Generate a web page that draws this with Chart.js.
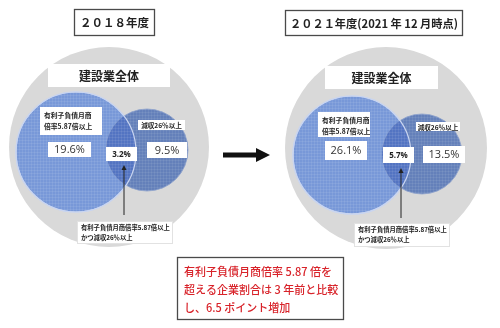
<!DOCTYPE html>
<html lang="ja">
<head>
<meta charset="UTF-8">
<title>建設業 有利子負債月商倍率と減収企業の割合</title>
<script src="https://cdn.jsdelivr.net/npm/chart.js"></script>
<style>
  body { margin: 0; background: #fff; }
  #wrap { width: 500px; height: 328px; }
</style>
</head>
<body>
<div id="wrap"><canvas id="venn" width="500" height="328"></canvas></div>
<script>
// data
const panels = ['２０１８年度', '２０２１年度(2021 年 12 月時点)'];
const debtOnly = [19.6, 26.1];     // 有利子負債月商倍率5.87倍以上 のみ
const overlap = [3.2, 5.7];        // 両方
const revenueOnly = [9.5, 13.5];   // 減収26%以上 のみ
const setNames = ['建設業全体', '有利子負債月商', '倍率5.87倍以上', '減収26％以上'];
const calloutLines = ['有利子負債月商倍率5.87倍以上', 'かつ減収26％以上'];
const noteLines = ['有利子負債月商倍率 5.87 倍を', '超える企業割合は 3 年前と比較', 'し、6.5 ポイント増加'];

// layout (scale units = pixels)
const circles = {
  all:   [{ x: 109, y: 147, r: 100 }, { x: 386, y: 148, r: 101 }],
  debt:  [{ x: 76, y: 152, r: 60 },   { x: 352, y: 155, r: 59 }],
  rev:   [{ x: 147, y: 150, r: 41 },  { x: 422, y: 154, r: 40 }]
};
const boxes = [
  { title: [74, 9, 155, 36], whole: [48, 64, 170, 87], debtLabel: [40, 107, 102, 135],
    debtVal: [48, 142, 91, 157], overVal: [106, 147, 137, 161], revLabel: [138, 120, 185, 130],
    revVal: [147, 142, 187, 158], callout: [77, 221, 173, 244], pointer: [124, 215, 165] },
  { title: [285, 10, 463, 36], whole: [325, 66, 438, 89], debtLabel: [318, 112, 370, 137],
    debtVal: [325, 141, 367, 160], overVal: [383, 147, 414, 163], revLabel: [416, 122, 460, 131],
    revVal: [423, 146, 465, 163], callout: [354, 223, 450, 247], pointer: [401, 218, 168] }
];
const noteBox = [177, 257, 344, 320];
const bigArrow = [223, 270, 155];

const JP = '"Noto Sans CJK JP", "Noto Sans", sans-serif';

function circlePath(ctx, el) {
  ctx.beginPath();
  ctx.arc(el.x, el.y, el.options.radius, 0, Math.PI * 2);
}
function texture(ctx, el, color) {
  const r = el.options.radius;
  ctx.save();
  circlePath(ctx, el);
  ctx.clip();
  ctx.strokeStyle = color;
  ctx.lineWidth = 1;
  ctx.beginPath();
  for (let d = -r; d <= r; d += 3) {
    ctx.moveTo(Math.round(el.x + d) + 0.5, el.y - r);
    ctx.lineTo(Math.round(el.x + d) + 0.5, el.y + r);
    ctx.moveTo(el.x - r, Math.round(el.y + d) + 0.5);
    ctx.lineTo(el.x + r, Math.round(el.y + d) + 0.5);
  }
  ctx.stroke();
  ctx.restore();
}

const overlapPlugin = {
  id: 'overlap',
  afterDatasetsDraw(chart) {
    const ctx = chart.ctx;
    const big = chart.getDatasetMeta(1).data;
    const small = chart.getDatasetMeta(2).data;
    big.forEach((b, i) => {
      const s = small[i];
      texture(ctx, s, 'rgba(255,255,255,0.07)');
      ctx.save();
      circlePath(ctx, b);
      ctx.clip();
      circlePath(ctx, s);
      ctx.fillStyle = '#5374c2';
      ctx.fill();
      ctx.restore();
      texture(ctx, b, 'rgba(255,255,255,0.08)');
      ctx.save();
      circlePath(ctx, b);
      ctx.strokeStyle = '#c9d5f0';
      ctx.lineWidth = 1.2;
      ctx.stroke();
      ctx.restore();
    });
  }
};

const labelPlugin = {
  id: 'labels',
  afterDraw(chart) {
    const ctx = chart.ctx;
    const sx = chart.scales.x, sy = chart.scales.y;
    const px = v => sx.getPixelForValue(v);
    const py = v => sy.getPixelForValue(v);

    function box(b, border) {
      const x1 = px(b[0]), y1 = py(b[1]), x2 = px(b[2]), y2 = py(b[3]);
      ctx.fillStyle = '#fff';
      ctx.fillRect(x1, y1, x2 - x1, y2 - y1);
      if (border) {
        ctx.strokeStyle = border;
        ctx.lineWidth = 1.3;
        ctx.strokeRect(x1 + 0.5, y1 + 0.5, x2 - x1 - 1, y2 - y1 - 1);
      }
      return { x1, y1, x2, y2, cx: (x1 + x2) / 2, cy: (y1 + y2) / 2 };
    }
    function text(str, x, y, font, color, align) {
      ctx.font = font;
      ctx.fillStyle = color || '#222';
      ctx.textAlign = align || 'center';
      ctx.textBaseline = 'middle';
      ctx.fillText(str, x, y);
    }
    function fitText(str, r, font, color) {
      ctx.font = font;
      const w = ctx.measureText(str).width;
      const avail = r.x2 - r.x1 - 10;
      ctx.save();
      ctx.translate(r.cx, r.cy + 0.5);
      if (w > avail) ctx.scale(avail / w, 1);
      text(str, 0, 0, font, color);
      ctx.restore();
    }

    boxes.forEach((b, i) => {
      const t = box(b.title, '#4a4a4a');
      fitText(panels[i], t, '600 11.5px ' + JP, '#222');

      const w = box(b.whole);
      text(setNames[0], w.cx, w.cy + 0.5, '600 12px ' + JP, '#222');

      const dl = box(b.debtLabel);
      text(setNames[1], dl.x1 + 4, dl.y1 + 8, 'bold 6.8px ' + JP, '#222', 'left');
      text(setNames[2], dl.x1 + 4, dl.y1 + 19, 'bold 6.8px ' + JP, '#222', 'left');

      const dv = box(b.debtVal);
      text(debtOnly[i].toFixed(1) + '%', dv.cx, dv.cy + 0.5, '11px "Open Sans", sans-serif', '#333');

      const ov = box(b.overVal);
      text(overlap[i].toFixed(1) + '%', ov.cx, ov.cy + 0.5, 'bold 8px "Open Sans", sans-serif', '#222');

      const rl = box(b.revLabel);
      text(setNames[3], rl.cx, rl.cy + 0.5, 'bold 6.6px ' + JP, '#222');

      const rv = box(b.revVal);
      text(revenueOnly[i].toFixed(1) + '%', rv.cx, rv.cy + 0.5, '11px "Open Sans", sans-serif', '#333');

      // pointer line with arrowhead
      const [ax, ay1, ay2] = b.pointer;
      ctx.strokeStyle = '#222';
      ctx.lineWidth = 1;
      ctx.beginPath();
      ctx.moveTo(px(ax), py(ay1));
      ctx.lineTo(px(ax), py(ay2) + 3);
      ctx.stroke();
      ctx.fillStyle = '#222';
      ctx.beginPath();
      ctx.moveTo(px(ax), py(ay2));
      ctx.lineTo(px(ax) - 2.5, py(ay2) + 5);
      ctx.lineTo(px(ax) + 2.5, py(ay2) + 5);
      ctx.closePath();
      ctx.fill();

      const c = box(b.callout);
      ctx.strokeStyle = '#e2e2e2';
      ctx.lineWidth = 1;
      ctx.strokeRect(c.x1 + 0.5, c.y1 + 0.5, c.x2 - c.x1 - 1, c.y2 - c.y1 - 1);
      text(calloutLines[0], c.x1 + 4, c.y1 + 7, 'bold 6.3px ' + JP, '#222', 'left');
      text(calloutLines[1], c.x1 + 4, c.y1 + 17, 'bold 6.3px ' + JP, '#222', 'left');
    });

    // big arrow between the panels
    const [x1, x2, y] = bigArrow;
    ctx.fillStyle = '#111';
    ctx.fillRect(px(x1), py(y) - 2.5, px(x2) - px(x1) - 12, 5);
    ctx.beginPath();
    ctx.moveTo(px(x2), py(y));
    ctx.lineTo(px(x2) - 14, py(y) - 7);
    ctx.lineTo(px(x2) - 14, py(y) + 7);
    ctx.closePath();
    ctx.fill();

    // note box
    const n = box(noteBox, '#4a4a4a');
    noteLines.forEach((l, k) => {
      text(l, n.x1 + 7, n.y1 + 15 + k * 18, '500 11px ' + JP, '#d8232a', 'left');
    });
  }
};

new Chart(document.getElementById('venn'), {
  type: 'bubble',
  data: {
    datasets: [
      { label: '建設業全体', data: circles.all, backgroundColor: '#d9d9d9', borderWidth: 0, order: 3 },
      { label: '有利子負債月商倍率5.87倍以上', data: circles.debt, order: 2,
        backgroundColor: '#7898d8', borderColor: '#c9d5f0', borderWidth: 1.2 },
      { label: '減収26%以上', data: circles.rev, order: 1,
        backgroundColor: '#6480ba', borderColor: '#8aa0cc', borderWidth: 0.8 }
    ]
  },
  options: {
    responsive: false,
    animation: false,
    events: [],
    clip: false,
    layout: { padding: 0, autoPadding: false },
    elements: { point: { hoverRadius: 0 } },
    scales: {
      x: { type: 'linear', min: 0, max: 500, display: false },
      y: { type: 'linear', min: 0, max: 328, reverse: true, display: false }
    },
    plugins: { legend: { display: false }, tooltip: { enabled: false }, title: { display: false } }
  },
  plugins: [overlapPlugin, labelPlugin]
});
</script>
</body>
</html>
